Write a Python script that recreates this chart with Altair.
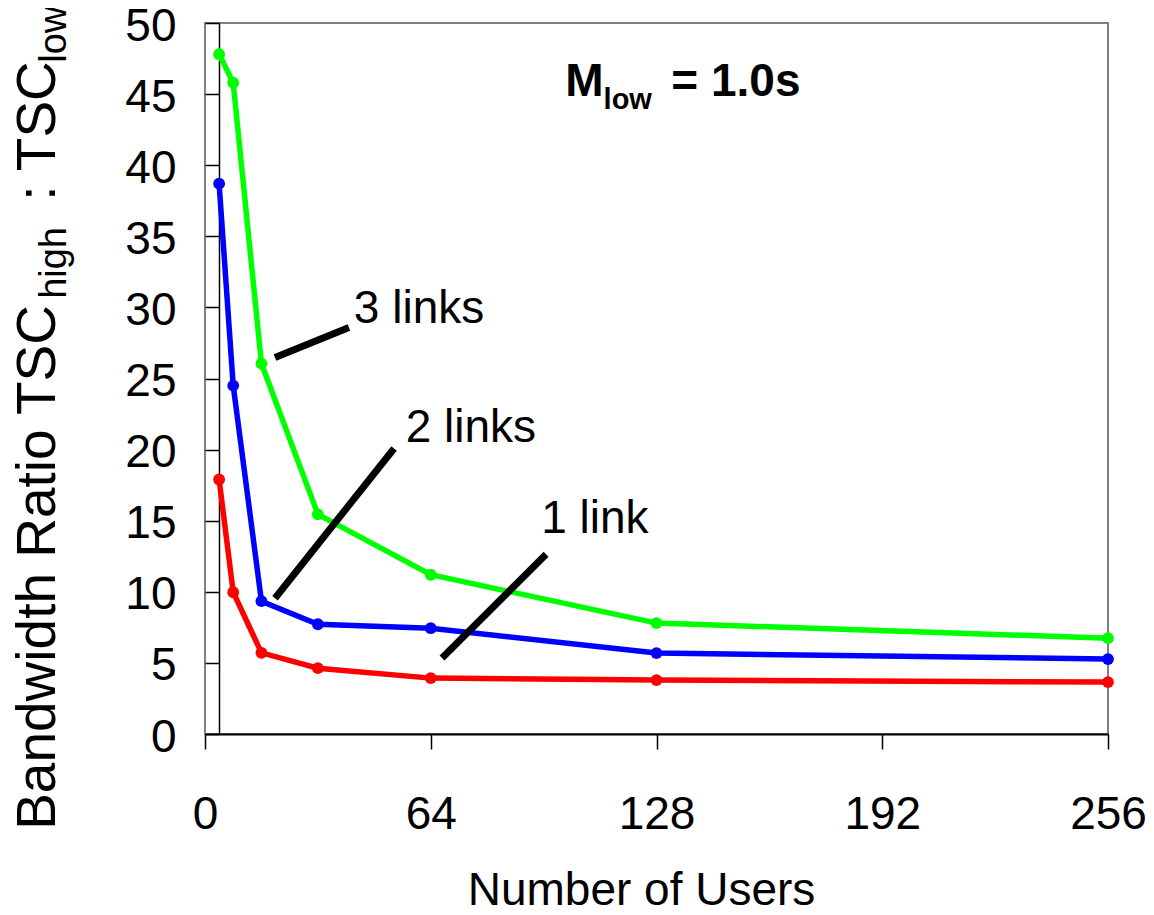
import altair as alt
import pandas as pd

FONT = "Liberation Sans"

# ---- data ----
users = [4, 8, 16, 32, 64, 128, 256]
ratio_1_link = [17.9, 9.97, 5.71, 4.63, 3.93, 3.79, 3.65]
ratio_2_links = [38.7, 24.5, 9.34, 7.72, 7.44, 5.69, 5.27]
ratio_3_links = [47.8, 45.8, 26.05, 15.45, 11.2, 7.8, 6.74]
series_names = ["3 links", "2 links", "1 link"]
series_colors = ["#00FF00", "#0000FF", "#FF0000"]

x_ticks = [0, 64, 128, 192, 256]
y_ticks = [0, 5, 10, 15, 20, 25, 30, 35, 40, 45, 50]

# annotation labels and leader lines (data coordinates)
label_text = ["1 link", "2 links", "3 links"]
label_x = [95.3, 56.9, 42.2]
label_y = [14.1, 20.5, 28.9]
lead_x = [67.2, 19.85, 19.85]
lead_y = [5.34, 9.55, 26.47]
lead_x2 = [96.7, 53.6, 40.8]
lead_y2 = [12.64, 20.08, 28.58]

# in-plot title "M_low = 1.0s"
title_main_text = ["M", "= 1.0s"]
title_main_x = [102.1, 132.2]
title_main_y = [44.87, 44.87]
title_sub_text = ["low"]
title_sub_x = [113.0]
title_sub_y = [43.96]

# y-axis title with subscripts
ytitle_main_text = ["Bandwidth Ratio TSC", ": TSC"]
ytitle_main_x = [-42.5, -42.5]
ytitle_main_y = [-6.74, 37.5]
ytitle_sub_text = ["high", "low"]
ytitle_sub_x = [-39.4, -39.4]
ytitle_sub_y = [30.6, 47.2]

# ---- tables ----
rows = []
for name, vals in zip(["1 link", "2 links", "3 links"], [ratio_1_link, ratio_2_links, ratio_3_links]):
    for u, v in zip(users, vals):
        rows.append({"series": name, "x": u, "y": v})
lines_df = pd.DataFrame(rows)
labels_df = pd.DataFrame({"text": label_text, "x": label_x, "y": label_y})
leads_df = pd.DataFrame({"x": lead_x, "y": lead_y, "x2": lead_x2, "y2": lead_y2})
tmain_df = pd.DataFrame({"text": title_main_text, "x": title_main_x, "y": title_main_y})
tsub_df = pd.DataFrame({"text": title_sub_text, "x": title_sub_x, "y": title_sub_y})
ymain_df = pd.DataFrame({"text": ytitle_main_text, "x": ytitle_main_x, "y": ytitle_main_y})
ysub_df = pd.DataFrame({"text": ytitle_sub_text, "x": ytitle_sub_x, "y": ytitle_sub_y})

xscale = alt.Scale(domain=[0, 256], nice=False, zero=False)
yscale = alt.Scale(domain=[0, 50], nice=False, zero=False)
xaxis = alt.Axis(values=x_ticks, title="Number of Users", grid=False,
                 domainColor="black", domainWidth=2, tickColor="black", tickSize=15, tickWidth=1.5,
                 labelFont=FONT, labelFontSize=46, labelColor="black", labelPadding=43,
                 labelFlush=False, titleFont=FONT, titleFontSize=46, titleFontWeight="normal",
                 titleColor="black", titleX=436, titleY=170, titleAlign="center",
                 titleBaseline="alphabetic")
yaxis = alt.Axis(values=y_ticks, title=None, grid=False, offset=-14,
                 domainColor="black", domainWidth=1.5, tickColor="black", tickSize=14, tickWidth=1.5,
                 labelFont=FONT, labelFontSize=46, labelColor="black", labelPadding=29,
                 labelFlush=False, labelOffset=3)


def X(field="x"):
    return alt.X(field, type="quantitative", scale=xscale, axis=xaxis)


def Y(field="y"):
    return alt.Y(field, type="quantitative", scale=yscale, axis=yaxis)


lines = alt.Chart(lines_df).mark_line(
    strokeWidth=5.5, point=alt.OverlayMarkDef(size=140, filled=True, opacity=1)
).encode(
    x=X(), y=Y(),
    color=alt.Color("series:N", scale=alt.Scale(domain=series_names, range=series_colors), legend=None),
    order=alt.Order("x:Q"),
)

leads = alt.Chart(leads_df).mark_rule(color="black", strokeWidth=7).encode(
    x=X(), y=Y(), x2="x2:Q", y2="y2:Q"
)

labels = alt.Chart(labels_df).mark_text(
    font=FONT, fontSize=46, color="black", align="left", baseline="alphabetic"
).encode(x=X(), y=Y(), text="text:N")

tmain = alt.Chart(tmain_df).mark_text(
    font=FONT, fontSize=46, fontWeight="bold", color="black", align="left", baseline="alphabetic"
).encode(x=X(), y=Y(), text="text:N")

tsub = alt.Chart(tsub_df).mark_text(
    font=FONT, fontSize=29, fontWeight="bold", color="black", align="left", baseline="alphabetic"
).encode(x=X(), y=Y(), text="text:N")

ymain = alt.Chart(ymain_df).mark_text(
    font=FONT, fontSize=55, color="black", align="left", baseline="alphabetic", angle=270
).encode(x=X(), y=Y(), text="text:N")

ysub = alt.Chart(ysub_df).mark_text(
    font=FONT, fontSize=38, color="black", align="left", baseline="alphabetic", angle=270
).encode(x=X(), y=Y(), text="text:N")

chart = alt.layer(lines, leads, labels, tmain, tsub, ymain, ysub).properties(
    width=903, height=711,
    autosize=alt.AutoSizeParams(type="none"),
    padding={"left": 197, "top": 15, "right": 38, "bottom": 173},
    background="white",
).configure_view(stroke="#808080", strokeWidth=2)

chart.save("out.html", embed_options={"renderer": "svg", "actions": False})
